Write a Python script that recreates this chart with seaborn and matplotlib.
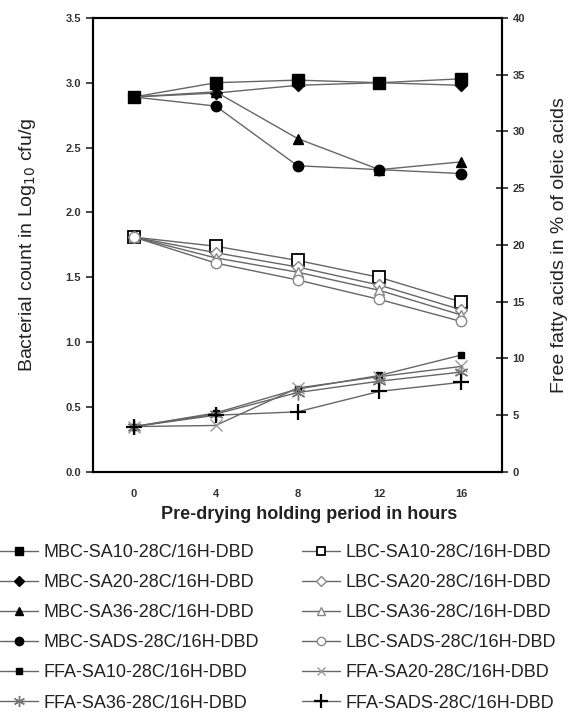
import matplotlib
matplotlib.use("Agg")
import matplotlib.pyplot as plt
import seaborn as sns
import pandas as pd
import numpy as np

sns.set_style("white")
plt.rcParams['font.family'] = ['Liberation Sans', 'DejaVu Sans']

hours = ["0", "4", "8", "12", "16"]

# Bacterial counts (log10 cfu/g) - left axis
mbc_sa10 = [2.89, 3.00, 3.02, 3.00, 3.03]
mbc_sa20 = [2.89, 2.92, 2.98, 3.00, 2.98]
mbc_sa36 = [2.89, 2.93, 2.57, 2.33, 2.39]
mbc_sads = [2.89, 2.82, 2.36, 2.33, 2.30]
lbc_sa10 = [1.81, 1.74, 1.63, 1.50, 1.31]
lbc_sa20 = [1.81, 1.69, 1.58, 1.44, 1.25]
lbc_sa36 = [1.81, 1.65, 1.54, 1.40, 1.21]
lbc_sads = [1.81, 1.61, 1.48, 1.33, 1.16]

# Free fatty acids (% oleic) - right axis
ffa_sa10 = [4.0, 5.2, 7.3, 8.5, 10.3]
ffa_sa20 = [4.0, 4.1, 7.4, 8.4, 9.3]
ffa_sa36 = [4.0, 5.1, 7.0, 8.0, 8.8]
ffa_sads = [4.0, 5.0, 5.3, 7.1, 7.9]

left_ticks = [0.0, 0.5, 1.0, 1.5, 2.0, 2.5, 3.0, 3.5]
right_ticks = [0, 5, 10, 15, 20, 25, 30, 35, 40]

fig = plt.figure(figsize=(5.7, 7.13), dpi=100)
ax = fig.add_axes([0.163, 0.338, 0.718, 0.637])
ax2 = ax.twinx()

xpos = np.arange(len(hours))
LC = '#666666'

def draw(axis, vals, label, marker, ms, mfc, mec, mew=1.0):
    df = pd.DataFrame({"x": xpos, "y": vals})
    sns.lineplot(data=df, x="x", y="y", ax=axis, color=LC, linewidth=1.0,
                 marker=marker, markersize=ms, markerfacecolor=mfc,
                 markeredgecolor=mec, markeredgewidth=mew, label=label,
                 legend=False)

draw(ax, mbc_sa10, "MBC-SA10-28C/16H-DBD", 's', 8, 'black', 'black')
draw(ax, mbc_sa20, "MBC-SA20-28C/16H-DBD", 'D', 6.5, 'black', 'black')
draw(ax, mbc_sa36, "MBC-SA36-28C/16H-DBD", '^', 7.5, 'black', 'black')
draw(ax, mbc_sads, "MBC-SADS-28C/16H-DBD", 'o', 7.5, 'black', 'black')
draw(ax, lbc_sa10, "LBC-SA10-28C/16H-DBD", 's', 8, 'white', 'black', 1.3)
draw(ax, lbc_sa20, "LBC-SA20-28C/16H-DBD", 'D', 6.5, 'white', '#888888')
draw(ax, lbc_sa36, "LBC-SA36-28C/16H-DBD", '^', 7.5, 'white', '#888888')
draw(ax, lbc_sads, "LBC-SADS-28C/16H-DBD", 'o', 7.5, 'white', '#888888')

draw(ax2, ffa_sa10, "FFA-SA10-28C/16H-DBD", 's', 5, 'black', 'black')
draw(ax2, ffa_sa20, "FFA-SA20-28C/16H-DBD", 'x', 8, '#999999', '#999999', 1.0)
draw(ax2, ffa_sa36, "FFA-SA36-28C/16H-DBD", (6, 2, 0), 10, '#777777', '#777777', 1.0)
draw(ax2, ffa_sads, "FFA-SADS-28C/16H-DBD", '+', 12, 'black', 'black', 1.6)

# Axes formatting
ax.set_xlim(-0.5, 4.5)
ax.set_ylim(0, 3.5)
ax2.set_ylim(0, 40)
ax.set_xticks(np.arange(-0.5, 5.0, 1.0))
ax.set_xticklabels([])
ax.set_xticks(xpos, minor=True)
ax.set_xticklabels(hours, minor=True, fontsize=8, fontweight='bold', color='#333333')
ax.tick_params(axis='x', which='major', direction='out', length=5, width=1.2, color='black')
ax.tick_params(axis='x', which='minor', length=0, pad=12)

ax.set_yticks(left_ticks)
ax.set_yticklabels([f"{t:.1f}" for t in left_ticks], fontsize=8, fontweight='bold', color='#333333')
ax.tick_params(axis='y', direction='out', length=5, width=1.2, left=True)

ax2.set_yticks(right_ticks)
ax2.set_yticklabels([str(t) for t in right_ticks], fontsize=8, fontweight='bold', color='#333333')
ax2.tick_params(axis='y', direction='inout', length=8, width=1.2, right=True)

for a in (ax, ax2):
    for s in a.spines.values():
        s.set_linewidth(1.5)
        s.set_color('black')

ax.set_xlabel("Pre-drying holding period in hours", fontsize=13, fontweight='bold',
              color='#222222')
ax.xaxis.set_label_coords(0.528, -0.075)
ax.set_ylabel("Bacterial count in Log$_{10}$ cfu/g", fontsize=14, color='#222222', labelpad=20)
ax2.set_ylabel("Free fatty acids in % of oleic acids", fontsize=14, color='#222222', labelpad=19)

h1, l1 = ax.get_legend_handles_labels()
h2, l2 = ax2.get_legend_handles_labels()
hd = dict(zip(l1 + l2, h1 + h2))
order = ["MBC-SA10-28C/16H-DBD", "MBC-SA20-28C/16H-DBD", "MBC-SA36-28C/16H-DBD",
         "MBC-SADS-28C/16H-DBD", "FFA-SA10-28C/16H-DBD", "FFA-SA36-28C/16H-DBD",
         "LBC-SA10-28C/16H-DBD", "LBC-SA20-28C/16H-DBD", "LBC-SA36-28C/16H-DBD",
         "LBC-SADS-28C/16H-DBD", "FFA-SA20-28C/16H-DBD", "FFA-SADS-28C/16H-DBD"]
fig.legend([hd[k] for k in order], order, loc='upper left', bbox_to_anchor=(-0.012, 0.247),
           ncol=2, frameon=False, fontsize=13, handlelength=2.1, handletextpad=0.28,
           columnspacing=2.4, labelspacing=0.725, borderaxespad=0, labelcolor='#222222',
           markerscale=0.8)

fig.savefig("out.png", dpi=100)
